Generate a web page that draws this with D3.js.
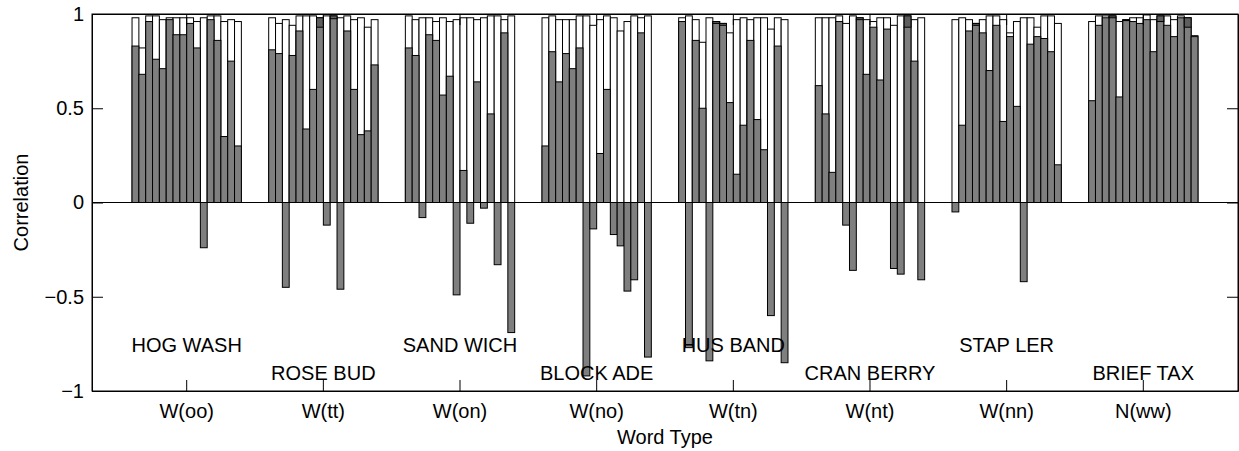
<!DOCTYPE html>
<html>
<head>
<meta charset="utf-8">
<script src="https://cdn.jsdelivr.net/npm/d3@7"></script>
<style>
  body { margin: 0; background: #fff; }
  text { font-family: "Liberation Sans", Arial, sans-serif; fill: #000; }
</style>
</head>
<body>
<div id="chart"></div>
<script>
// tick labels under each group and the word pair written inside the plot
const tickLabels = ["W(oo)", "W(tt)", "W(on)", "W(no)", "W(tn)", "W(nt)", "W(nn)", "N(ww)"];
const wordLabels = ["HOG WASH", "ROSE BUD", "SAND WICH", "BLOCK ADE", "HUS BAND", "CRAN BERRY", "STAP LER", "BRIEF TAX"];
const yTicks = [-1, -0.5, 0, 0.5, 1];

// white (back) bars, 16 per group
const whiteSeries = [
  [0.98, 0.82, 0.99, 0.99, 0.97, 0.98, 0.98, 0.98, 0.98, 0.96, 0.98, 0.99, 0.99, 0.96, 0.97, 0.96],
  [0.98, 0.95, 0.97, 0.94, 0.99, 0.99, 0.99, 0.93, 0.99, 0.975, 0.98, 0.99, 0.97, 0.98, 0.93, 0.97],
  [0.99, 0.97, 0.98, 0.98, 0.96, 0.98, 0.96, 0.97, 0.98, 0.98, 0.97, 0.98, 0.99, 0.99, 0.97, 0.99],
  [0.98, 0.99, 0.97, 0.97, 0.97, 0.99, 0.99, 0.94, 0.97, 0.99, 0.98, 0.91, 0.96, 0.99, 0.98, 0.99],
  [0.98, 0.99, 0.97, 0.85, 0.98, 0.95, 0.94, 0.90, 0.97, 0.98, 0.97, 0.98, 0.98, 0.92, 0.98, 0.97],
  [0.98, 0.98, 0.98, 0.99, 0.95, 0.99, 0.97, 0.97, 0.96, 0.98, 0.98, 0.94, 0.99, 0.93, 0.97, 0.98],
  [0.97, 0.98, 0.97, 0.94, 0.97, 0.99, 0.99, 0.97, 0.90, 0.96, 0.98, 0.98, 0.93, 0.99, 0.99, 0.95],
  [0.96, 0.99, 0.99, 0.98, 0.96, 0.965, 0.98, 0.98, 0.995, 0.97, 0.96, 0.99, 0.97, 0.99, 0.93, 0.885]
];

// gray (front) bars, 16 per group
const graySeries = [
  [0.83, 0.68, 0.96, 0.76, 0.71, 0.97, 0.89, 0.89, 0.95, 0.82, -0.24, 0.97, 0.86, 0.35, 0.75, 0.30],
  [0.81, 0.79, -0.45, 0.78, 0.91, 0.39, 0.60, 0.98, -0.12, 0.99, -0.46, 0.91, 0.60, 0.36, 0.38, 0.73],
  [0.82, 0.78, -0.08, 0.89, 0.86, 0.57, 0.67, -0.49, 0.17, -0.11, 0.64, -0.03, 0.47, -0.33, 0.90, -0.69],
  [0.30, 0.80, 0.64, 0.79, 0.71, 0.82, -0.92, -0.14, 0.26, 0.60, -0.17, -0.23, -0.47, -0.41, 0.90, -0.82],
  [0.96, -0.77, 0.86, 0.50, -0.84, 0.96, 0.95, 0.53, 0.15, 0.41, 0.86, 0.44, 0.28, -0.60, 0.83, -0.85],
  [0.62, 0.47, 0.16, 0.96, -0.12, -0.36, 0.98, 0.68, 0.93, 0.65, 0.92, -0.35, -0.38, 0.99, 0.75, -0.41],
  [-0.05, 0.41, 0.91, 0.95, 0.90, 0.70, 0.94, 0.43, 0.88, 0.51, -0.42, 0.84, 0.88, 0.87, 0.80, 0.20],
  [0.54, 0.94, 0.98, 0.99, 0.56, 0.97, 0.96, 0.95, 0.97, 0.80, 0.99, 0.94, 0.88, 0.98, 0.98, 0.88]
];

const width = 1239, height = 451;
const margin = { top: 14, right: 1, bottom: 60, left: 92 };
const innerW = width - margin.left - margin.right;
const innerH = height - margin.top - margin.bottom;
const tickLen = 11;

const svg = d3.select("#chart").append("svg")
    .attr("width", width)
    .attr("height", height);

const g = svg.append("g")
    .attr("transform", `translate(${margin.left},${margin.top})`);

// group scale, then one slot per bar inside a group
const x = d3.scaleBand()
    .domain(d3.range(tickLabels.length))
    .range([0, innerW])
    .paddingInner(0.2)
    .paddingOuter(0.293);

const xSlot = d3.scaleBand()
    .domain(d3.range(whiteSeries[0].length))
    .range([0, x.bandwidth()]);

const y = d3.scaleLinear()
    .domain([-1, 1])
    .range([innerH, 0]);

// flatten to one record per slot
const bars = [];
whiteSeries.forEach((row, gi) => {
  row.forEach((w, si) => {
    bars.push({ gi, si, w, k: graySeries[gi][si] });
  });
});

const barX = d => x(d.gi) + xSlot(d.si);

// white bars behind
g.append("g").selectAll("rect")
  .data(bars)
  .join("rect")
    .attr("x", barX)
    .attr("width", xSlot.bandwidth())
    .attr("y", d => y(Math.max(0, d.w)))
    .attr("height", d => Math.abs(y(d.w) - y(0)))
    .attr("fill", "#fff")
    .attr("stroke", "#000")
    .attr("stroke-width", 1);

// gray bars in front
g.append("g").selectAll("rect")
  .data(bars)
  .join("rect")
    .attr("x", barX)
    .attr("width", xSlot.bandwidth())
    .attr("y", d => y(Math.max(0, d.k)))
    .attr("height", d => Math.abs(y(d.k) - y(0)))
    .attr("fill", "#7f7f7f")
    .attr("stroke", "#000")
    .attr("stroke-width", 1);

// where the gray bar pokes above the white one it reads darker
g.append("g").selectAll("rect")
  .data(bars.filter(d => d.w > 0 && d.k > d.w + 0.003))
  .join("rect")
    .attr("x", barX)
    .attr("width", xSlot.bandwidth())
    .attr("y", d => y(d.k))
    .attr("height", d => y(d.w) - y(d.k))
    .attr("fill", "#5e5e5e")
    .attr("stroke", "#000")
    .attr("stroke-width", 1);

// zero line
g.append("line")
    .attr("x1", 0).attr("x2", innerW)
    .attr("y1", y(0)).attr("y2", y(0))
    .attr("stroke", "#000");

// axes, ticks pointing inward like the original
const groupCenter = i => x(i) + x.bandwidth() / 2;

const xBottom = d3.axisBottom(x).tickSize(-tickLen).tickSizeOuter(0)
    .tickFormat(i => tickLabels[i]);
const gxb = g.append("g").attr("transform", `translate(0,${innerH})`).call(xBottom);
gxb.selectAll("text").attr("font-size", 20).attr("dy", 0).attr("y", 27);

const xTop = d3.axisTop(x).tickSize(-tickLen).tickSizeOuter(0).tickFormat("");
g.append("g").call(xTop);

const yLeft = d3.axisLeft(y).tickValues(yTicks).tickSize(-tickLen).tickSizeOuter(0)
    .tickFormat(d => d3.format("")(d).replace("-", "\u2212"));
const gyl = g.append("g").call(yLeft);
gyl.selectAll("text").attr("font-size", 20).attr("x", -8);

const yRight = d3.axisRight(y).tickValues(yTicks).tickSize(-tickLen).tickSizeOuter(0).tickFormat("");
g.append("g").attr("transform", `translate(${innerW},0)`).call(yRight);

g.selectAll(".domain").attr("stroke", "#000");
g.selectAll(".tick line").attr("stroke", "#000");

// box
g.append("rect")
    .attr("width", innerW).attr("height", innerH)
    .attr("fill", "none").attr("stroke", "#000");

// word labels inside the plot, alternating heights
g.append("g").selectAll("text")
  .data(wordLabels)
  .join("text")
    .attr("x", (d, i) => groupCenter(i))
    .attr("y", (d, i) => i % 2 === 0 ? 338 : 365.5)
    .attr("text-anchor", "middle")
    .attr("font-size", 20)
    .text(d => d);

// axis titles
svg.append("text")
    .attr("x", margin.left + innerW / 2)
    .attr("y", 444)
    .attr("text-anchor", "middle")
    .attr("font-size", 20)
    .text("Word Type");

svg.append("text")
    .attr("transform", `translate(27.5,${margin.top + innerH / 2}) rotate(-90)`)
    .attr("text-anchor", "middle")
    .attr("font-size", 20)
    .text("Correlation");
</script>
</body>
</html>
